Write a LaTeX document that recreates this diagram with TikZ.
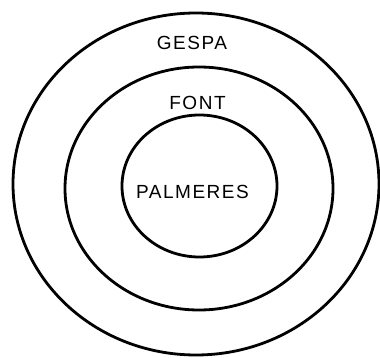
\documentclass[tikz,border=0pt]{standalone}
\usepackage{fontspec}
\setmainfont{Liberation Sans}[LetterSpace=8]
\begin{document}
\begin{tikzpicture}[x=1pt,y=-1pt,
  ring/.style={draw=black,line width=2.8pt},
  lbl/.style={font=\fontsize{19}{22}\selectfont,inner sep=0pt,anchor=center}]
\useasboundingbox (0,0) rectangle (380,358);
\fill[white] (0,0) rectangle (380,358);
\draw[ring] (196,184) ellipse [x radius=183,y radius=171];
\draw[ring] (199,188.5) ellipse [x radius=134,y radius=121.5];
\draw[ring] (199.5,186) ellipse [x radius=77.5,y radius=71];
\node[lbl] (gespa) at (192,43) {GESPA};
\node[lbl] (font) at (197.5,103) {FONT};
\node[lbl] (palm) at (192.5,192) {PALMERES};
\end{tikzpicture}
\end{document}
